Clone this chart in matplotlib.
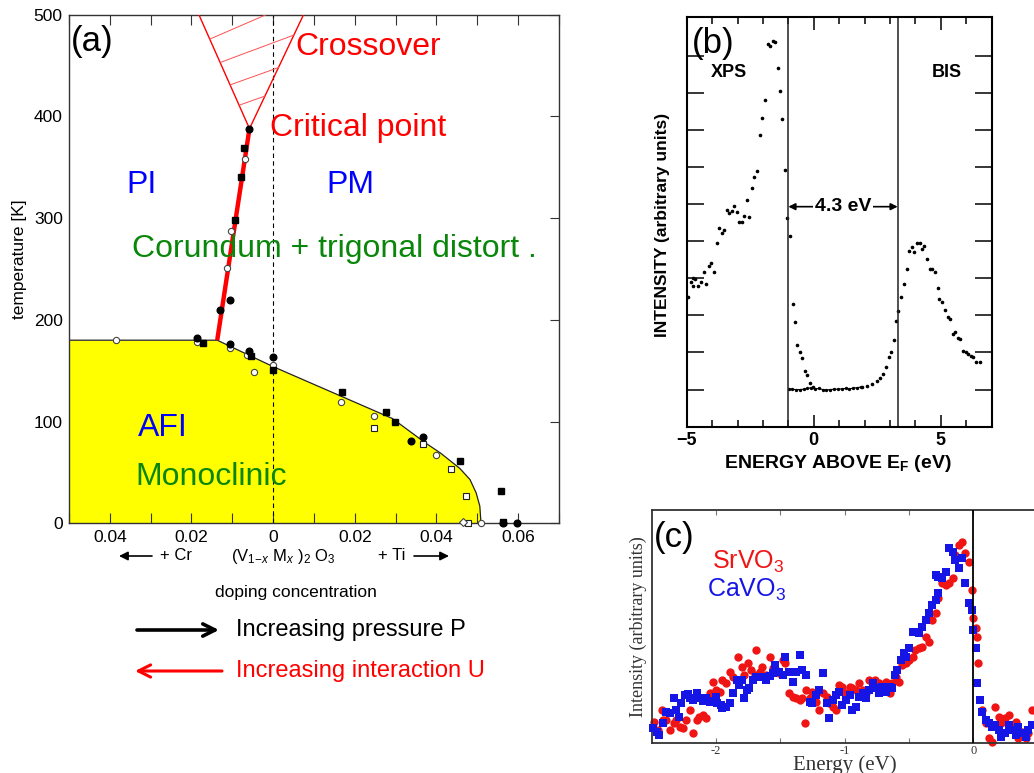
import numpy as np
import matplotlib
matplotlib.use("Agg")
import matplotlib.pyplot as plt

W, H = 1034, 773
plt.rcParams['font.family'] = ['Liberation Sans', 'DejaVu Sans']
plt.rcParams['mathtext.fontset'] = 'custom'
plt.rcParams['mathtext.rm'] = 'Liberation Sans'
plt.rcParams['mathtext.it'] = 'Liberation Sans:italic'
plt.rcParams['mathtext.bf'] = 'Liberation Sans:bold'

# ---------------- (a) V2O3 phase diagram ----------------
# AFI phase boundary (doping x, negative = Cr side)
afi_x = [-0.05, -0.0137, 0.0, 0.0292, 0.0373, 0.041, 0.0457, 0.0482, 0.0497, 0.0506, 0.0509]
afi_T = [180, 180, 154, 103, 79, 69, 54, 43, 30, 17, 0]
# first order PM-PI line up to the critical point
mit_x = [-0.0137, -0.0058]
mit_T = [180, 388]
# crossover region above the critical point
cross_T = [388, 520]
cross_left_x = [-0.0058, -0.0204]
cross_right_x = [-0.0058, 0.0098]
hatch_T_lo = [411, 431, 453, 476]
hatch_T_hi = [420, 448, 480, 520]

# measured points
fc_x = [-0.0187, -0.0105, -0.0059, 0.0, 0.0337, 0.0368, 0.0563, 0.0596, -0.0058, -0.0131, -0.0105]
fc_T = [182, 176, 169, 163, 81, 85, 0, 0, 388, 210, 220]
oc_x = [-0.0386, -0.0187, -0.0106, -0.0063, -0.0048, 0.0166, 0.0247, 0.0398, 0.0509, -0.0070, -0.0104, -0.0114, 0.0]
oc_T = [180, 178, 172, 165, 149, 119, 105, 67, 0, 358, 287, 251, 156]
fs_x = [-0.0172, -0.0055, 0.0, 0.0169, 0.0277, 0.0299, 0.0457, 0.0557, 0.0563, -0.0072, -0.0078, -0.0094]
fs_T = [177, 164, 151, 129, 109, 100, 61, 32, 1, 369, 340, 298]
os_x = [0.0247, 0.0368, 0.0435, 0.0472, 0.0476]
os_T = [94, 78, 53, 27, 0]
od_x = [0.0464]
od_T = [1]

dop_ticks = [-0.04, -0.02, 0.0, 0.02, 0.04, 0.06]
dop_labels = ["0.04", "0.02", "0", "0.02", "0.04", "0.06"]
temp_ticks = [0, 100, 200, 300, 400, 500]

# ---------------- (b) XPS / BIS spectrum ----------------
xps_E = [-4.96, -4.83, -4.74, -4.74, -4.66, -4.54, -4.44, -4.33, -4.24, -4.13, -4.03, -3.91,
         -3.82, -3.72, -3.61, -3.52, -3.41, -3.32, -3.23, -3.13, -3.03, -2.93, -2.83, -2.73,
         -2.63, -2.54, -2.42, -2.34, -2.23, -2.13, -2.02, -1.92, -1.80, -1.71, -1.61, -1.51,
         -1.41, -1.31, -1.24, -1.13, -1.04, -0.93]
xps_I = [3.5, 3.91, 4.00, 3.80, 3.97, 3.80, 3.91, 4.18, 3.85, 4.32, 4.41, 4.16,
         4.95, 5.35, 5.23, 5.29, 5.84, 5.75, 5.80, 5.96, 5.78, 5.53, 5.51, 5.68,
         6.11, 5.66, 6.43, 6.72, 6.89, 7.87, 8.33, 8.80, 10.32, 10.25, 10.39, 10.36,
         9.68, 9.05, 8.30, 6.91, 5.62, 5.14]
gap_lo_E = [-0.83, -0.75, -0.65, -0.54, -0.46, -0.34, -0.25, -0.15, -0.02]
gap_lo_I = [3.30, 2.82, 2.20, 2.02, 1.85, 1.49, 1.40, 1.19, 1.08]
base_E = [-0.98, -0.85, -0.70, -0.55, -0.40, -0.25, -0.10, 0.05, 0.20, 0.35, 0.50, 0.65,
          0.80, 0.95, 1.10, 1.25, 1.40, 1.55, 1.70, 1.85]
base_I = [1.02, 1.01, 1.00, 1.00, 1.01, 1.03, 1.05, 1.02, 1.03, 1.00, 0.99, 1.00,
          1.01, 1.01, 1.02, 1.03, 1.02, 1.04, 1.05, 1.07]
gap_hi_E = [1.89, 2.09, 2.28, 2.48, 2.61, 2.74, 2.84, 2.96, 3.04, 3.16, 3.25]
gap_hi_I = [1.08, 1.11, 1.15, 1.23, 1.31, 1.42, 1.62, 1.87, 2.02, 2.34, 2.85]
bis_E = [3.33, 3.44, 3.56, 3.66, 3.76, 3.86, 3.94, 4.06, 4.16, 4.26, 4.35, 4.47, 4.58, 4.66,
         4.75, 4.87, 4.94, 5.06, 5.17, 5.28, 5.37, 5.47, 5.56, 5.67, 5.77, 5.87, 5.97, 6.07,
         6.18, 6.28, 6.39, 6.52]
bis_I = [3.12, 3.49, 3.84, 4.25, 4.74, 4.83, 4.72, 4.96, 4.95, 4.78, 4.87, 4.53, 4.25, 4.25,
         4.16, 3.73, 3.44, 3.36, 3.15, 2.97, 2.90, 2.49, 2.56, 2.39, 2.37, 2.05, 2.00, 1.96,
         1.91, 1.89, 1.75, 1.75]
gap_edges = [-1.0, 3.3]

# ---------------- (c) SrVO3 / CaVO3 photoemission ----------------
ca_E = [-2.49, -2.46, -2.44, -2.41, -2.39, -2.36, -2.33, -2.31, -2.29, -2.27, -2.24, -2.22,
        -2.20, -2.18, -2.15, -2.13, -2.10, -2.08, -2.05, -2.02, -2.00, -1.99, -1.96, -1.95,
        -1.92, -1.89, -1.87, -1.84, -1.82, -1.80, -1.78, -1.76, -1.74, -1.71, -1.69, -1.66,
        -1.64, -1.61, -1.58, -1.56, -1.54, -1.51, -1.48, -1.46, -1.43, -1.40, -1.38, -1.35,
        -1.33, -1.30, -1.27, -1.25, -1.22, -1.20, -1.17, -1.14, -1.12, -1.09, -1.07, -1.04,
        -1.02, -0.99, -0.96, -0.94, -0.91, -0.89, -0.86, -0.83, -0.81, -0.78, -0.76, -0.73,
        -0.71, -0.68, -0.65, -0.63, -0.61, -0.59, -0.56, -0.54, -0.52, -0.50, -0.47, -0.45,
        -0.42, -0.40, -0.37, -0.34, -0.32, -0.29, -0.27, -0.29, -0.27, -0.24, -0.21, -0.19,
        -0.16, -0.14, -0.11, -0.09, -0.06, -0.03, -0.01, 0.00, 0.02, 0.03, 0.05, 0.07,
        0.10, 0.12, 0.15, 0.17, 0.20, 0.22, 0.25, 0.28, 0.30, 0.33, 0.35, 0.38, 0.41, 0.43, 0.46]
ca_I = [45, 35, 25, 60, 95, 90, 135, 100, 80, 120, 145, 148,
        135, 130, 150, 135, 128, 135, 125, 128, 140, 120, 115, 105,
        110, 120, 150, 190, 175, 190, 135, 160, 165, 190, 198, 200,
        200, 190, 202, 210, 235, 215, 205, 260, 215, 185, 215, 265,
        220, 205, 125, 120, 145, 160, 210, 120, 75, 130, 145, 155,
        115, 130, 145, 100, 110, 140, 150, 135, 160, 180, 165, 150,
        170, 155, 170, 165, 205, 220, 250, 270, 260, 285, 335, 335,
        330, 350, 370, 390, 415, 430, 452, 505, 498, 495, 515, 585,
        575, 550, 525, 555, 480, 420, 400, 340, 285, 180, 130, 95,
        70, 60, 50, 55, 40, 20, 30, 55, 40, 25, 50, 30, 20, 40, 55]
sr_E = [-2.48, -2.45, -2.42, -2.41, -2.39, -2.36, -2.33, -2.31, -2.28, -2.26, -2.23, -2.20,
        -2.18, -2.15, -2.13, -2.10, -2.08, -2.05, -2.02, -2.00, -1.97, -1.95, -1.92, -1.89,
        -1.87, -1.83, -1.80, -1.78, -1.75, -1.73, -1.70, -1.69, -1.66, -1.64, -1.61, -1.58,
        -1.56, -1.53, -1.51, -1.48, -1.46, -1.43, -1.40, -1.38, -1.35, -1.33, -1.30, -1.27,
        -1.25, -1.22, -1.20, -1.31, -1.17, -1.14, -1.12, -1.09, -1.07, -1.04, -1.02, -0.99,
        -0.96, -0.94, -0.91, -0.89, -0.86, -0.83, -0.81, -0.78, -0.76, -0.73, -0.71, -0.68,
        -0.65, -0.63, -0.60, -0.58, -0.55, -0.52, -0.50, -0.47, -0.45, -0.42, -0.40, -0.37,
        -0.34, -0.32, -0.29, -0.27, -0.24, -0.21, -0.19, -0.16, -0.14, -0.11, -0.09, -0.06,
        -0.03, -0.01, 0.00, 0.02, 0.03, 0.04, 0.07, 0.10, 0.12, 0.15, 0.17, 0.20,
        0.22, 0.25, 0.28, 0.30, 0.33, 0.35, 0.38, 0.41, 0.43, 0.46]
sr_I = [65, 40, 100, 70, 70, 40, 60, 70, 50, 45, 70, 100,
        30, 70, 80, 85, 75, 150, 185, 160, 155, 190, 180, 215,
        200, 260, 230, 205, 240, 220, 205, 280, 215, 230, 205, 260,
        225, 220, 210, 250, 240, 150, 140, 135, 130, 135, 160, 135,
        155, 125, 100, 60, 150, 140, 120, 110, 100, 175, 170, 150,
        170, 165, 160, 180, 160, 150, 190, 180, 190, 180, 170, 185,
        150, 180, 200, 185, 235, 240, 250, 260, 280, 285, 290, 320,
        305, 370, 390, 435, 480, 475, 480, 495, 565, 595, 605, 570,
        545, 460, 375, 345, 320, 240, 100, 60, 15, 5, 110, 80,
        60, 75, 85, 55, 65, 15, 35, 15, 30, 100]


def fx(px):
    return px / W


def fy(py):
    return 1 - py / H


fig = plt.figure(figsize=(W / 100, H / 100), dpi=100)

# ================= panel (a) =================
ax = fig.add_axes([fx(69), fy(523.3), 490 / W, 508.6 / H])
ax.fill_between(afi_x, afi_T, 0, color='#ffff00', lw=0, zorder=1)
ax.plot(afi_x, afi_T, color='#222222', lw=0.9, zorder=2)
ax.axvline(0, color='k', lw=0.8, ls=(0, (4, 3)), zorder=2)
ax.plot(mit_x, mit_T, color='#ff0000', lw=3.2, zorder=3, solid_capstyle='butt')
ax.plot(cross_left_x, cross_T, color='#ff0000', lw=1.0, zorder=3)
ax.plot(cross_right_x, cross_T, color='#ff0000', lw=1.0, zorder=3)
for lo, hi in zip(hatch_T_lo, hatch_T_hi):
    ax.plot([np.interp(lo, cross_T, cross_left_x), np.interp(hi, cross_T, cross_right_x)],
            [lo, hi], color='#ff5050', lw=0.7, zorder=3)

ax.plot(oc_x, oc_T, 'o', ms=4.5, mfc='white', mec='#444444', mew=0.8, zorder=4, clip_on=False)
ax.plot(os_x, os_T, 's', ms=5, mfc='white', mec='#222222', mew=0.8, zorder=4, clip_on=False)
ax.plot(od_x, od_T, 'D', ms=4.5, mfc='white', mec='#444444', mew=0.8, zorder=4, clip_on=False)
ax.plot(fc_x, fc_T, 'o', ms=4.8, color='k', zorder=5, clip_on=False)
ax.plot(fs_x, fs_T, 's', ms=4.8, color='k', zorder=5, clip_on=False)

ax.set_xlim(-0.05, 0.07)
ax.set_ylim(0, 500)
ax.set_xticks(dop_ticks, labels=dop_labels)
ax.set_xticks(np.arange(-0.05, 0.0701, 0.01), minor=True)
ax.set_yticks(temp_ticks)
ax.tick_params(axis='x', which='both', direction='in', top=True, length=7.5, width=0.8,
               labelsize=12.5, pad=5, color='#333333')
ax.tick_params(axis='y', direction='in', left=False, right=True, labelleft=True,
               length=6.5, width=0.8, labelsize=12.5, pad=4.5, color='#333333')
for s in ax.spines.values():
    s.set_color('#333333')
    s.set_linewidth(1.0)

ax.text(0.003, 0.948, '(a)', transform=ax.transAxes, fontsize=25, va='center', ha='left')
ax.text(0.4627, 0.9365, 'Crossover', transform=ax.transAxes, fontsize=23, color='#ff0000', va='center')
ax.text(0.411, 0.777, 'Critical point', transform=ax.transAxes, fontsize=23, color='#ff0000', va='center')
ax.text(0.118, 0.665, 'PI', transform=ax.transAxes, fontsize=23, color='#0000ff', va='center')
ax.text(0.526, 0.665, 'PM', transform=ax.transAxes, fontsize=23, color='#0000ff', va='center')
ax.text(0.129, 0.539, 'Corundum + trigonal distort .', transform=ax.transAxes, fontsize=23,
        color='#0a870a', va='center')
ax.text(0.14, 0.187, 'AFI', transform=ax.transAxes, fontsize=23, color='#0000ff', va='center')
ax.text(0.136, 0.091, 'Monoclinic', transform=ax.transAxes, fontsize=23, color='#0a870a', va='center')

fig.text(fx(19.5), fy(259), 'temperature [K]', rotation=90, fontsize=12.5, ha='center', va='center')
fig.text(fx(296), fy(593), 'doping concentration', fontsize=12.5, ha='center', va='center')

# doping direction line
arr_small = dict(arrowstyle='-|>', color='k', lw=1.2, mutation_scale=13, shrinkA=0, shrinkB=0)
ax.annotate('', xy=(fx(119), fy(556)), xytext=(fx(152), fy(556)), xycoords='figure fraction',
            textcoords='figure fraction', arrowprops=arr_small, annotation_clip=False)
ax.annotate('', xy=(fx(449), fy(556)), xytext=(fx(414), fy(556)), xycoords='figure fraction',
            textcoords='figure fraction', arrowprops=arr_small, annotation_clip=False)
fig.text(fx(160), fy(556), '+ Cr', fontsize=12, va='center')
fig.text(fx(378), fy(556), '+ Ti', fontsize=12, va='center')
fig.text(fx(231), fy(557), r'(V$_{1\!-\!x}$ M$_x$ )$_2$ O$_3$', fontsize=12, va='center')

# pressure / interaction arrows
ax.annotate('', xy=(fx(219), fy(630)), xytext=(fx(137), fy(630)), xycoords='figure fraction',
            textcoords='figure fraction', annotation_clip=False,
            arrowprops=dict(arrowstyle='->', color='k', lw=2.6, mutation_scale=22,
                            shrinkA=0, shrinkB=0))
ax.annotate('', xy=(fx(135), fy(671)), xytext=(fx(222), fy(671)), xycoords='figure fraction',
            textcoords='figure fraction', annotation_clip=False,
            arrowprops=dict(arrowstyle='->', color='#ff0000', lw=2.2, mutation_scale=22,
                            shrinkA=0, shrinkB=0))
fig.text(fx(236), fy(630), 'Increasing pressure P', fontsize=17, va='center')
fig.text(fx(236), fy(671), 'Increasing interaction U', fontsize=17, va='center', color='#ff0000')

# ================= panel (b) =================
bx = fig.add_axes([fx(686.7), fy(426.7), 305 / W, 410 / H])
bx.plot(xps_E, xps_I, 'o', ms=1.6, color='k')
bx.plot(gap_lo_E, gap_lo_I, 'o', ms=1.6, color='k')
bx.plot(base_E, base_I, '-o', ms=1.4, lw=0.8, color='k')
bx.plot(gap_hi_E, gap_hi_I, 'o', ms=1.6, color='k')
bx.plot(bis_E, bis_I, 'o', ms=1.6, color='k')
for e in gap_edges:
    bx.axvline(e, color='#222222', lw=1.1)
bx.annotate('', xy=(gap_edges[0], 5.93), xytext=(gap_edges[1], 5.93),
            arrowprops=dict(arrowstyle='<|-|>', color='k', lw=1.2, mutation_scale=10,
                            shrinkA=0, shrinkB=0))
bx.text(1.15, 5.93, '4.3 eV', fontsize=14, fontweight='bold', ha='center', va='center',
        bbox=dict(facecolor='white', edgecolor='none', pad=1.0))
bx.text(-3.33, 9.54, 'XPS', fontsize=13, fontweight='bold', ha='center', va='center')
bx.text(5.25, 9.54, 'BIS', fontsize=13, fontweight='bold', ha='center', va='center')
bx.text(-4.78, 10.34, '(b)', fontsize=25, ha='left', va='center')

bx.set_xlim(-5, 7)
bx.set_ylim(0, 11.05)
bx.set_xticks([-5, 0, 5], labels=['\u22125', '0', '5'])
bx.set_xticks(np.arange(-5, 8, 1), minor=True)
bx.set_yticks(np.arange(1, 11, 1), labels=[])
bx.tick_params(axis='x', which='major', direction='in', top=True, length=9, width=1.1,
               labelsize=13, pad=4)
bx.tick_params(axis='x', which='minor', direction='in', top=True, length=5, width=1.1)
bx.tick_params(axis='y', direction='in', left=True, right=True, length=12, width=1.1)
for lab in bx.get_xticklabels():
    lab.set_fontweight('bold')
for s in bx.spines.values():
    s.set_linewidth(1.5)
fig.text(fx(663), fy(225), 'INTENSITY (arbitrary units)', rotation=90, fontsize=12.5,
         fontweight='bold', ha='center', va='center')
fig.text(fx(838), fy(464), r'ENERGY ABOVE E$_{\mathbf{F}}$ (eV)', fontsize=14,
         fontweight='bold', ha='center', va='center')

# ================= panel (c) =================
cx = fig.add_axes([fx(651.7), fy(743.3), 450 / W, 233.3 / H])
cx.scatter(sr_E, sr_I, s=36, marker='o', color='#f01515', lw=0, zorder=2, clip_on=False)
cx.scatter(ca_E, ca_I, s=28, marker='s', color='#1515e6', lw=0, zorder=3, clip_on=False)
cx.axvline(0, color='k', lw=1.3, zorder=4)
cx.set_xlim(-2.5, 1.0)
cx.set_ylim(0, 700)
cx.set_xticks([-2, -1, 0], labels=['-2', '-1', '0'])
cx.set_xticks([-1.5, -0.5], minor=True)
cx.set_yticks([])
cx.tick_params(axis='x', which='both', direction='in', top=True, length=3.5, width=0.8,
               color='#777777', labelsize=9, pad=1, labelcolor='#333333')
for lab in cx.get_xticklabels():
    lab.set_family('Liberation Serif')
for s in cx.spines.values():
    s.set_color('#333333')
    s.set_linewidth(1.3)
cx.text(0.004, 0.88, '(c)', transform=cx.transAxes, fontsize=25, va='center')
fig.text(fx(712), fy(562), 'SrVO$_3$', fontsize=18, color='#f01515', va='center')
fig.text(fx(707), fy(590), 'CaVO$_3$', fontsize=18, color='#1515e6', va='center')
fig.text(fx(638), fy(627), 'Intensity (arbitrary units)', rotation=90, fontsize=13,
         family='Liberation Serif', ha='center', va='center', color='#333333')
fig.text(fx(845), fy(765), 'Energy (eV)', fontsize=15, family='Liberation Serif',
         ha='center', va='center', color='#333333')

fig.savefig('out.png', dpi=100)
